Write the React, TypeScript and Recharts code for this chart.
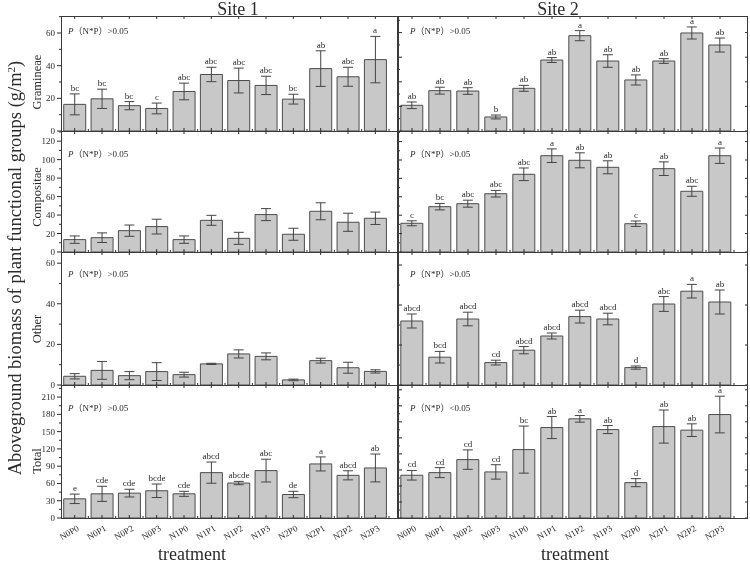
import React from "react";
import { ComposedChart, Bar, Line, XAxis, YAxis, ErrorBar, LabelList } from "recharts";

const treatments = ["N0P0", "N0P1", "N0P2", "N0P3", "N1P0", "N1P1", "N1P2", "N1P3", "N2P0", "N2P1", "N2P2", "N2P3"];

// Site 1
const s1Gramineae = [16.3, 19.7, 15.5, 13.8, 24.2, 34.6, 30.9, 27.9, 19.5, 38.2, 33.2, 43.7];
const s1GramineaeErr = [6.4, 5.9, 2.5, 3.3, 5.1, 4.4, 7.6, 5.6, 3, 10.9, 5.8, 14.2];
const s1GramineaeLetters = ["bc", "bc", "bc", "c", "abc", "abc", "abc", "abc", "bc", "ab", "abc", "a"];

const s1Compositae = [13.4, 15.5, 23.1, 27.5, 13.4, 34.3, 14.8, 40.5, 19.2, 44.1, 32.2, 36.5];
const s1CompositaeErr = [4, 5.2, 6.1, 8, 4, 5.4, 6.5, 6.5, 6.5, 9.2, 9.8, 6.7];

const s1Other = [4.3, 7.2, 4.6, 6.6, 5.1, 10.4, 15.3, 14.1, 2.5, 12, 8.5, 6.7];
const s1OtherErr = [1.3, 4.4, 2, 4.4, 1.2, 0.3, 2, 1.7, 0.4, 1.2, 2.7, 0.8];

const s1Total = [33.3, 42, 43.2, 47.3, 42, 78.8, 60.7, 82.3, 40.8, 93.9, 74.1, 86.9];
const s1TotalErr = [8.2, 13.1, 6.7, 11.7, 4.4, 18.4, 2.9, 19.8, 5.5, 12.2, 7.9, 24.2];
const s1TotalLetters = ["e", "cde", "cde", "bcde", "cde", "abcd", "abcde", "abc", "de", "a", "abcd", "ab"];

// Site 2
const s2Gramineae = [20.9, 32.8, 32.5, 11.4, 34.7, 57.7, 77.5, 56.9, 41.5, 56.9, 79.7, 69.9];
const s2GramineaeErr = [2.7, 2.8, 2.7, 1.6, 2.4, 2.0, 4.1, 5.1, 4.1, 1.9, 4.9, 5.7];
const s2GramineaeLetters = ["ab", "ab", "ab", "b", "ab", "ab", "a", "ab", "ab", "ab", "a", "ab"];

const s2Compositae = [62.4, 98.5, 105, 126.7, 168.9, 209.3, 199.3, 184.1, 61.5, 181.1, 132, 209.3];
const s2CompositaeErr = [5.4, 7, 7.6, 7.2, 13.7, 14.8, 16.3, 14.1, 5.9, 14.8, 10.9, 16.7];
const s2CompositaeLetters = ["c", "bc", "abc", "abc", "abc", "a", "ab", "ab", "c", "ab", "abc", "a"];

const s2Other = [32, 13.9, 33, 11.2, 17.4, 24.5, 34.2, 33, 8.7, 40.5, 46.9, 41.5];
const s2OtherErr = [3.5, 2.9, 3.4, 1.2, 1.8, 1.5, 3.2, 2.9, 0.8, 3.7, 3.4, 6];
const s2OtherLetters = ["abcd", "bcd", "abcd", "cd", "abcd", "abcd", "abcd", "abcd", "d", "abc", "a", "ab"];

const s2Total = [133.4, 141.6, 182.2, 143.8, 213.4, 282.2, 309.4, 275.9, 110.3, 285.3, 274.1, 322.8];
const s2TotalErr = [15, 15.6, 30.3, 22.5, 73.4, 34.4, 10.3, 12.5, 12.5, 51.6, 19.7, 57.2];
const s2TotalLetters = ["cd", "cd", "cd", "cd", "bc", "ab", "a", "ab", "d", "ab", "ab", "a"];

const rowNames = ["Gramineae", "Compositae", "Other", "Total"];

const FONT = "'Liberation Serif', 'Times New Roman', 'Noto Sans CJK SC', serif";
const INK = "#2b2b2b";

const COLS = [
  { x: 61, w: 337, padR: 9 },
  { x: 398, w: 350, padR: 14 },
];
const ROWS = [
  { y: 16, h: 115 },
  { y: 131, h: 121 },
  { y: 252, h: 133 },
  { y: 385, h: 133 },
];

const range = (max: number, step: number) => {
  const out: number[] = [];
  for (let v = 0; v <= max + 1e-9; v += step) out.push(Math.round(v * 100) / 100);
  return out;
};

const panels = [
  { col: 0, row: 0, values: s1Gramineae, err: s1GramineaeErr, letters: s1GramineaeLetters, max: 70.4, step: 10, major: 20, p: ">0.05" },
  { col: 0, row: 1, values: s1Compositae, err: s1CompositaeErr, letters: null, max: 131, step: 10, major: 20, p: ">0.05" },
  { col: 0, row: 2, values: s1Other, err: s1OtherErr, letters: null, max: 65.5, step: 10, major: 20, p: ">0.05" },
  { col: 0, row: 3, values: s1Total, err: s1TotalErr, letters: s1TotalLetters, max: 231, step: 15, major: 30, p: ">0.05" },
  { col: 1, row: 0, values: s2Gramineae, err: s2GramineaeErr, letters: s2GramineaeLetters, max: 93.5, step: 10, major: 20, p: ">0.05" },
  { col: 1, row: 1, values: s2Compositae, err: s2CompositaeErr, letters: s2CompositaeLetters, max: 263, step: 20, major: 40, p: ">0.05" },
  { col: 1, row: 2, values: s2Other, err: s2OtherErr, letters: s2OtherLetters, max: 66.5, step: 10, major: 20, p: ">0.05" },
  { col: 1, row: 3, values: s2Total, err: s2TotalErr, letters: s2TotalLetters, max: 415, step: 25, major: 50, p: "<0.05" },
];

// letters drawn above the whisker top, snapped to whole pixels
const LetterLabel = (props: any) => {
  const { x, y, value } = props;
  if (!value) return null;
  return (
    <text x={Math.round(x)} y={Math.round(y) - 3} textAnchor="middle" fontSize={9} fontFamily={FONT} fill={INK}>
      {value}
    </text>
  );
};

function Panel({ cfg }: any) {
  const col = COLS[cfg.col];
  const row = ROWS[cfg.row];
  const site1 = cfg.col === 0;
  const bottom = cfg.row === 3;
  const yW = site1 ? 30 : 10;
  const xH = bottom ? 48 : 10;
  const band = (col.w - col.padR) / treatments.length;

  const data = treatments.map((t, i) => ({
    name: t,
    value: cfg.values[i],
    err: cfg.err[i],
    top: cfg.values[i] + cfg.err[i],
    letter: cfg.letters ? cfg.letters[i] : "",
  }));

  const yTick = (props: any) => {
    const { x, y, payload } = props;
    const v = payload.value;
    const isMajor = Math.abs(v / cfg.major - Math.round(v / cfg.major)) < 1e-6;
    const len = isMajor ? 4 : 2;
    if (site1) {
      return (
        <g>
          <line x1={x} x2={x - len} y1={y} y2={y} stroke={INK} />
          {isMajor && (
            <text x={x - 6} y={Math.round(y)} dy={3} textAnchor="end" fontSize={9} fontFamily={FONT} fill={INK}>
              {v}
            </text>
          )}
        </g>
      );
    }
    return (
      <g>
        <line x1={x} x2={x + len} y1={y} y2={y} stroke={INK} />
        {isMajor && <line x1={x + col.w} x2={x + col.w - 3} y1={y} y2={y} stroke={INK} />}
      </g>
    );
  };

  const xTick = (props: any) => {
    const { x, y, payload } = props;
    return (
      <g>
        <line x1={x} x2={x} y1={y} y2={y - 3} stroke={INK} />
        <line x1={x + band / 2} x2={x + band / 2} y1={y} y2={y - 2} stroke={INK} />
        <line x1={x} x2={x} y1={y - row.h} y2={y - row.h + 3} stroke={INK} />
        {bottom && (
          <text
            transform={`translate(${x + 5},${y + 12}) rotate(-30)`}
            textAnchor="end"
            fontSize={9}
            fontFamily={FONT}
            fill={INK}
          >
            {payload.value}
          </text>
        )}
      </g>
    );
  };

  return (
    <div style={{ position: "absolute", left: col.x - yW, top: row.y, willChange: "transform" }}>
      <ComposedChart
        width={col.w + yW}
        height={row.h + xH}
        data={data}
        margin={{ top: 0, right: 0, bottom: 0, left: 0 }}
        barCategoryGap="10%"
      >
        <XAxis
          dataKey="name"
          height={xH}
          interval={0}
          padding={{ left: 0, right: col.padR }}
          axisLine={false}
          tickLine={false}
          tickSize={0}
          tickMargin={0}
          tick={xTick}
        />
        <YAxis
          width={yW}
          type="number"
          domain={[0, cfg.max]}
          allowDataOverflow
          ticks={range(cfg.max, cfg.step)}
          interval={0}
          axisLine={false}
          tickLine={false}
          tickSize={0}
          tickMargin={0}
          tick={yTick}
        />
        <Bar dataKey="value" fill="#c8c8c8" stroke="#4d4d4d" strokeWidth={1} isAnimationActive={false}>
          <ErrorBar dataKey="err" width={5} stroke="#444" strokeWidth={1} />
        </Bar>
        {cfg.letters && (
          <Line dataKey="top" stroke="none" dot={false} activeDot={false} isAnimationActive={false} legendType="none">
            <LabelList dataKey="letter" content={LetterLabel} />
          </Line>
        )}
      </ComposedChart>
    </div>
  );
}

const labelCenters = [82, 197, 329, 461];
const pBaselines = [34, 157, 277, 411];

export default function App() {
  return (
    <div style={{ position: "absolute", left: 0, top: 0, width: 750, height: 564, background: "#fff", fontFamily: FONT }}>
      {panels.map((cfg, i) => (
        <Panel key={i} cfg={cfg} />
      ))}
      <svg width={750} height={564} style={{ position: "absolute", left: 0, top: 0, pointerEvents: "none", willChange: "transform" }}>
        {COLS.map((c, ci) =>
          ROWS.map((r, ri) => (
            <rect key={`${ci}-${ri}`} x={c.x + 0.5} y={r.y + 0.5} width={c.w - 1} height={r.h} fill="none" stroke="#3a3a3a" />
          ))
        )}
        <text x={238} y={15} textAnchor="middle" fontSize={18} fontFamily={FONT} fill={INK}>Site 1</text>
        <text x={558} y={15} textAnchor="middle" fontSize={18} fontFamily={FONT} fill={INK}>Site 2</text>
        <text transform="translate(21,268) rotate(-90)" textAnchor="middle" fontSize={18.5} fontFamily={FONT} fill={INK}>
          Aboveground biomass of plant functional groups (g/m
          <tspan dy={-6} fontSize={11}>2</tspan>
          <tspan dy={6}>)</tspan>
        </text>
        {rowNames.map((n, i) => (
          <text key={n} transform={`translate(41,${labelCenters[i]}) rotate(-90)`} textAnchor="middle" fontSize={12.5} fontFamily={FONT} fill={INK}>
            {n}
          </text>
        ))}
        {panels.map((cfg, i) => (
          <text key={`p${i}`} x={cfg.col === 0 ? 68 : 410} y={pBaselines[cfg.row]} fontSize={9} fontFamily={FONT} fill={INK}>
            <tspan fontStyle="italic">P</tspan>
            <tspan>（N*P）{cfg.p}</tspan>
          </text>
        ))}
        <text x={192} y={560} textAnchor="middle" fontSize={18} fontFamily={FONT} fill={INK}>treatment</text>
        <text x={575} y={560} textAnchor="middle" fontSize={18} fontFamily={FONT} fill={INK}>treatment</text>
      </svg>
    </div>
  );
}
